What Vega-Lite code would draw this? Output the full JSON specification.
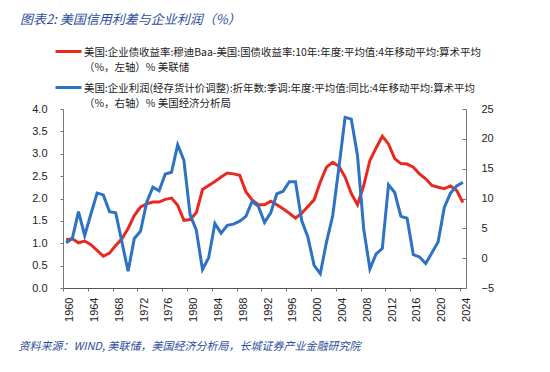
{
  "$schema": "https://vega.github.io/schema/vega-lite/v6.json",
  "width": 403,
  "height": 179,
  "autosize": {"type": "none"},
  "padding": {"left": 63, "top": 109, "right": 84, "bottom": 84},
  "background": "white",
  "title": {
    "text": "图表2:  美国信用利差与企业利润（%）",
    "anchor": "start",
    "frame": "group",
    "dx": -43,
    "offset": 10,
    "font": "Noto Sans CJK SC",
    "fontSize": 13,
    "fontStyle": "italic",
    "fontWeight": "normal",
    "color": "#2E4D9B"
  },
  "config": {
    "view": {"stroke": null},
    "style": {"guide-label": {"lineHeight": 15, "dy": 4}},
    "axis": {"grid": false, "labelFont": "Liberation Sans", "labelFontSize": 11, "labelColor": "#222", "domainColor": "#777", "tickColor": "#777"},
    "legend": {
      "orient": "none",
      "legendX": -9,
      "legendY": -72,
      "title": null,
      "padding": 0,
      "symbolType": "stroke",
      "symbolSize": 676,
      "symbolStrokeWidth": 3,
      "labelFont": "Noto Sans CJK SC",
      "labelFontSize": 10.45,
      "labelColor": "#222",
      "labelLimit": 0,
      "labelBaseline": "alphabetic",
      "labelOffset": 1,
      "rowPadding": 0
    }
  },
  "data": {
    "values": [
      {"year": 1960, "spread": 1.08, "profit": 2.6},
      {"year": 1961, "spread": 1.10, "profit": 3.3},
      {"year": 1962, "spread": 1.01, "profit": 7.8},
      {"year": 1963, "spread": 1.05, "profit": 3.8},
      {"year": 1964, "spread": 0.97, "profit": 7.4},
      {"year": 1965, "spread": 0.84, "profit": 10.9},
      {"year": 1966, "spread": 0.71, "profit": 10.6},
      {"year": 1967, "spread": 0.78, "profit": 7.8},
      {"year": 1968, "spread": 0.95, "profit": 7.6},
      {"year": 1969, "spread": 1.10, "profit": 2.7},
      {"year": 1970, "spread": 1.33, "profit": -2.2},
      {"year": 1971, "spread": 1.62, "profit": 3.3},
      {"year": 1972, "spread": 1.81, "profit": 4.5},
      {"year": 1973, "spread": 1.88, "profit": 9.4},
      {"year": 1974, "spread": 1.92, "profit": 11.9},
      {"year": 1975, "spread": 1.92, "profit": 11.3},
      {"year": 1976, "spread": 1.98, "profit": 14.1},
      {"year": 1977, "spread": 2.01, "profit": 14.4},
      {"year": 1978, "spread": 1.85, "profit": 19.0},
      {"year": 1979, "spread": 1.51, "profit": 16.4},
      {"year": 1980, "spread": 1.53, "profit": 7.3},
      {"year": 1981, "spread": 1.68, "profit": 4.7},
      {"year": 1982, "spread": 2.20, "profit": -1.9},
      {"year": 1983, "spread": 2.29, "profit": 0.1},
      {"year": 1984, "spread": 2.38, "profit": 5.8},
      {"year": 1985, "spread": 2.48, "profit": 4.2},
      {"year": 1986, "spread": 2.57, "profit": 5.5},
      {"year": 1987, "spread": 2.55, "profit": 5.7},
      {"year": 1988, "spread": 2.52, "profit": 6.2},
      {"year": 1989, "spread": 2.15, "profit": 7.0},
      {"year": 1990, "spread": 1.97, "profit": 9.5},
      {"year": 1991, "spread": 1.86, "profit": 8.7},
      {"year": 1992, "spread": 1.86, "profit": 6.0},
      {"year": 1993, "spread": 1.94, "profit": 7.6},
      {"year": 1994, "spread": 1.86, "profit": 10.8},
      {"year": 1995, "spread": 1.77, "profit": 11.2},
      {"year": 1996, "spread": 1.67, "profit": 12.8},
      {"year": 1997, "spread": 1.56, "profit": 12.8},
      {"year": 1998, "spread": 1.67, "profit": 6.3},
      {"year": 1999, "spread": 1.82, "profit": 3.5},
      {"year": 2000, "spread": 1.97, "profit": -1.2},
      {"year": 2001, "spread": 2.37, "profit": -2.6},
      {"year": 2002, "spread": 2.70, "profit": 2.7},
      {"year": 2003, "spread": 2.81, "profit": 7.1},
      {"year": 2004, "spread": 2.72, "profit": 15.2},
      {"year": 2005, "spread": 2.48, "profit": 23.6},
      {"year": 2006, "spread": 2.11, "profit": 23.3},
      {"year": 2007, "spread": 1.86, "profit": 17.2},
      {"year": 2008, "spread": 2.29, "profit": 4.9},
      {"year": 2009, "spread": 2.85, "profit": -1.8},
      {"year": 2010, "spread": 3.13, "profit": 0.7},
      {"year": 2011, "spread": 3.39, "profit": 1.6},
      {"year": 2012, "spread": 3.22, "profit": 12.3},
      {"year": 2013, "spread": 2.89, "profit": 11.0},
      {"year": 2014, "spread": 2.78, "profit": 7.0},
      {"year": 2015, "spread": 2.77, "profit": 6.7},
      {"year": 2016, "spread": 2.70, "profit": 0.6},
      {"year": 2017, "spread": 2.55, "profit": 0.2},
      {"year": 2018, "spread": 2.44, "profit": -0.9},
      {"year": 2019, "spread": 2.29, "profit": 0.9},
      {"year": 2020, "spread": 2.25, "profit": 2.7},
      {"year": 2021, "spread": 2.22, "profit": 8.5},
      {"year": 2022, "spread": 2.28, "profit": 10.9},
      {"year": 2023, "spread": 2.18, "profit": 12.1},
      {"year": 2024, "spread": 1.91, "profit": 12.7}
    ]
  },
  "encoding": {
    "x": {
      "field": "year",
      "type": "quantitative",
      "scale": {"domain": [1959.5, 2024.5], "nice": false, "zero": false},
      "axis": {
        "values": [1960, 1964, 1968, 1972, 1976, 1980, 1984, 1988, 1992, 1996, 2000, 2004, 2008, 2012, 2016, 2020, 2024],
        "format": "d",
        "labelAngle": 270,
        "labelAlign": "right",
        "labelBaseline": "middle",
        "tickOffset": -3.1,
        "labelOffset": 2.7,
        "tickSize": 3,
        "labelPadding": 6,
        "domainColor": "#555",
        "title": "资料来源：WIND, 美联储，美国经济分析局，长城证券产业金融研究院",
        "titleX": -45,
        "titleY": 61,
        "titleAlign": "left",
        "titleAnchor": "start",
        "titleBaseline": "alphabetic",
        "titleFont": "Noto Sans CJK SC",
        "titleFontSize": 11,
        "titleFontStyle": "italic",
        "titleFontWeight": "normal",
        "titleColor": "#2E4D9B"
      }
    },
    "color": {
      "type": "nominal",
      "scale": {
        "domain": [
          "美国:企业债收益率:穆迪Baa-美国:国债收益率:10年:年度:平均值:4年移动平均:算术平均|（%，左轴）% 美联储",
          "美国:企业利润(经存货计价调整):折年数:季调:年度:平均值:同比:4年移动平均:算术平均|（%，右轴）% 美国经济分析局"
        ],
        "range": ["#E8291F", "#2D72C4"]
      },
      "legend": {"labelExpr": "split(datum.label, '|')"}
    }
  },
  "layer": [
    {
      "mark": {"type": "line", "strokeWidth": 3},
      "encoding": {
        "y": {
          "field": "spread",
          "type": "quantitative",
          "scale": {"domain": [0, 4], "nice": false},
          "axis": {"orient": "left", "values": [0, 0.5, 1, 1.5, 2, 2.5, 3, 3.5, 4], "format": ".1f", "tickSize": 3, "labelPadding": 13, "labelOffset": -4, "title": null}
        },
        "color": {"datum": "美国:企业债收益率:穆迪Baa-美国:国债收益率:10年:年度:平均值:4年移动平均:算术平均|（%，左轴）% 美联储", "legend": {"labelExpr": "split(datum.label, '|')"}}
      }
    },
    {
      "mark": {"type": "line", "strokeWidth": 3},
      "encoding": {
        "y": {
          "field": "profit",
          "type": "quantitative",
          "scale": {"domain": [-5, 25], "nice": false},
          "axis": {"orient": "right", "values": [-5, 0, 5, 10, 15, 20, 25], "tickSize": -4, "labelPadding": 19, "labelOffset": -4, "title": null}
        },
        "color": {"datum": "美国:企业利润(经存货计价调整):折年数:季调:年度:平均值:同比:4年移动平均:算术平均|（%，右轴）% 美国经济分析局", "legend": {"labelExpr": "split(datum.label, '|')"}}
      }
    }
  ],
  "resolve": {"scale": {"y": "independent"}}
}
